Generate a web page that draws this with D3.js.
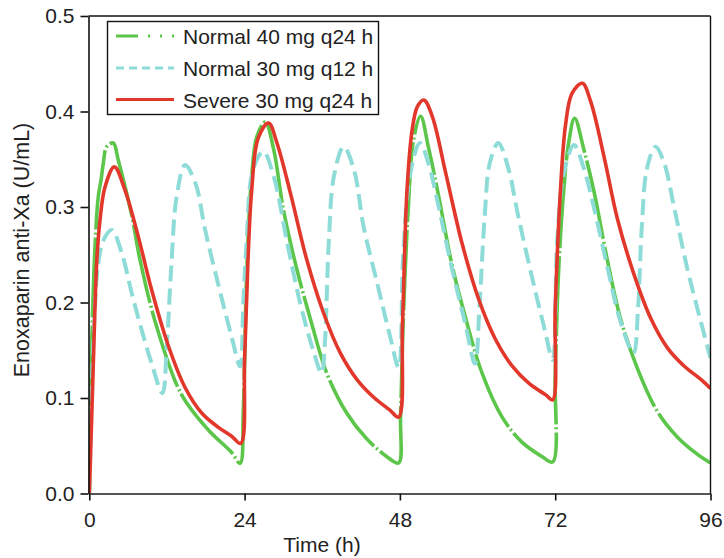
<!DOCTYPE html>
<html><head><meta charset="utf-8">
<script src="https://cdn.jsdelivr.net/npm/d3@7"></script>
<style>
body{margin:0;background:#fff}
text{font-family:"Liberation Sans",Arial,Helvetica,sans-serif;fill:#222}
</style>
</head><body><svg id="c" width="724" height="558"></svg>
<script>
// ---- data ----
const xTicks = [0, 24, 48, 72, 96];
const yTicks = [0, 0.1, 0.2, 0.3, 0.4, 0.5];
const seriesNames = ["Normal 40 mg q24 h", "Normal 30 mg q12 h", "Severe 30 mg q24 h"];
const xTitle = "Time (h)";
const yTitle = "Enoxaparin anti-Xa (U/mL)";

const greenT = [0,0.37,0.88,1.39,1.81,2.17,2.68,3.7,4.48,6.5,7.83,10.4,14.3,18.4,22,23.3,
  23.8,24.3,25.1,25.9,27.2,28.5,30,32.1,34.2,36.7,39.8,42.9,46,47.8,
  48.1,48.5,49.3,50.1,51.2,52.4,54,56,58.1,60.7,63.8,66.9,70,71.6,
  72.0,72.5,73.3,74.1,75,76.4,78,80.1,82.1,84.7,87.8,90.9,94,96];
const greenV = [0,0.154,0.258,0.311,0.328,0.346,0.363,0.367,0.349,0.293,0.245,0.175,0.103,0.0665,0.043,0.0316,
  0.087,0.227,0.332,0.374,0.389,0.36,0.297,0.234,0.182,0.126,0.084,0.057,0.0385,0.032,
  0.08,0.178,0.30,0.37,0.395,0.363,0.311,0.241,0.185,0.126,0.080,0.0535,0.0385,0.033,
  0.124,0.229,0.316,0.368,0.393,0.361,0.316,0.243,0.183,0.131,0.0857,0.059,0.041,0.032];

const cyanT = [0,0.7,1.39,2.17,3.46,5.0,6.55,8.1,9.64,11.3,11.97,12.7,13.5,14.8,16.4,17.9,20,22,23.3,
  23.8,24.3,25.3,26.9,28.5,30.6,32.6,34.6,35.9,36.4,37,37.8,39.3,40.9,42.4,44.5,46.5,47.8,
  48.5,49.6,51.1,52.4,54,56,58.1,59.6,60.3,61.1,61.9,63.2,64.7,66.3,68.4,70.4,71.6,
  72.3,73.3,74.9,76.4,78,80.1,82.1,84.1,84.8,85.4,86.2,87.5,88.8,90.4,92.4,94.5,96];
const cyanV = [0,0.171,0.241,0.265,0.276,0.252,0.21,0.171,0.136,0.105,0.154,0.241,0.311,0.344,0.325,0.276,0.217,0.164,0.133,
  0.20,0.262,0.339,0.358,0.332,0.262,0.199,0.150,0.126,0.157,0.262,0.332,0.363,0.339,0.279,0.22,0.164,0.132,
  0.248,0.335,0.367,0.346,0.30,0.237,0.178,0.136,0.196,0.29,0.346,0.367,0.342,0.29,0.227,0.171,0.14,
  0.264,0.334,0.365,0.341,0.299,0.236,0.18,0.147,0.194,0.281,0.341,0.363,0.347,0.299,0.236,0.18,0.142];

const redT = [0,0.15,0.62,1.14,1.65,2.43,3.87,5.5,7.57,9.64,12.2,14.8,17.4,20,22,23.4,
  24.0,24.5,25.1,26.1,27.7,29,31.1,33.6,36.2,38.8,41.4,43.9,46.5,47.8,
  48.4,49.1,49.9,50.7,51.7,53,55.1,57.6,60.2,62.8,65.4,68,70.6,71.6,
  72.0,72.8,73.6,74.6,76.2,77.5,79.6,81.6,84.2,86.8,89.4,92,94.6,96];
const redV = [0,0.03,0.136,0.241,0.286,0.321,0.342,0.318,0.269,0.213,0.155,0.111,0.084,0.069,0.06,0.0525,
  0.14,0.24,0.318,0.372,0.388,0.367,0.314,0.245,0.189,0.147,0.119,0.101,0.087,0.080,
  0.178,0.318,0.381,0.405,0.412,0.395,0.335,0.262,0.203,0.161,0.133,0.115,0.103,0.098,
  0.194,0.316,0.386,0.419,0.4295,0.410,0.351,0.288,0.229,0.183,0.152,0.133,0.119,0.110];

// ---- styles ----
const colors = ["#5cc64a", "#8edcd7", "#e2372b"];

const svg = d3.select("#c");
const x = d3.scaleLinear().domain([0, 96]).range([89.3, 710.5]);
const y = d3.scaleLinear().domain([0, 0.5]).range([493.5, 16]);

svg.append("defs").append("clipPath").attr("id", "clip")
  .append("rect").attr("x", 88.5).attr("y", 10).attr("width", 622).attr("height", 484);

const line = d3.line().x(d => x(d[0])).y(d => y(d[1])).curve(d3.curveCatmullRom.alpha(0.5));
const plot = svg.append("g").attr("clip-path", "url(#clip)");

const series = [
  {t: greenT, v: greenV, color: colors[0], w: 3.6, dash: "80,3,2,3"},
  {t: cyanT, v: cyanV, color: colors[1], w: 4, dash: "16,7"},
  {t: redT, v: redV, color: colors[2], w: 3.6, dash: null}
];
series.forEach(s => {
  plot.append("path").datum(d3.zip(s.t, s.v))
    .attr("d", line).attr("fill", "none")
    .attr("stroke", s.color).attr("stroke-width", s.w)
    .attr("stroke-dasharray", s.dash)
    .attr("stroke-linejoin", "round");
});

// frame top/right
svg.append("line").attr("x1", 88.5).attr("x2", 710.5).attr("y1", 16).attr("y2", 16).attr("stroke", "#111").attr("stroke-width", 1.4);
svg.append("line").attr("x1", 710.5).attr("x2", 710.5).attr("y1", 16).attr("y2", 493.5).attr("stroke", "#111").attr("stroke-width", 1.4);

// axes
const yAxis = svg.append("g").attr("transform", "translate(88.5,0)")
  .call(d3.axisLeft(y).tickValues(yTicks).tickFormat(d3.format(".1f")).tickSize(8).tickSizeOuter(0).tickPadding(6));
const xAxis = svg.append("g").attr("transform", "translate(0,493.5)")
  .call(d3.axisBottom(x).tickValues(xTicks).tickFormat(d3.format("d")).tickSize(7).tickSizeOuter(0).tickPadding(11.5));
[yAxis, xAxis].forEach(g => {
  g.selectAll("text").attr("font-size", 21).attr("font-family", "'Liberation Sans',Arial,sans-serif").attr("fill", "#222");
  g.selectAll("line").attr("stroke", "#111").attr("stroke-width", 1.6);
});
yAxis.select(".domain").attr("stroke", "#111").attr("stroke-width", 1.6);
xAxis.select(".domain").attr("stroke", "#555").attr("stroke-width", 2);

// titles
svg.append("text").attr("x", 322).attr("y", 552).attr("text-anchor", "middle").attr("font-size", 21).text(xTitle);
svg.append("text").attr("transform", "translate(29,250) rotate(-90)").attr("text-anchor", "middle").attr("font-size", 21.5).text(yTitle);

// legend
const lg = svg.append("g");
lg.append("rect").attr("x", 107.5).attr("y", 21.5).attr("width", 271).attr("height", 93)
  .attr("fill", "#fff").attr("stroke", "#111").attr("stroke-width", 1.4);
const legDash = ["22,10,2,10,2,10", "8,5", null];
const legY = [36, 68, 99.5];
seriesNames.forEach((n, i) => {
  lg.append("line").attr("x1", 116).attr("x2", 174).attr("y1", legY[i]).attr("y2", legY[i])
    .attr("stroke", colors[i]).attr("stroke-width", 3.2).attr("stroke-dasharray", legDash[i]);
  lg.append("text").attr("x", 183).attr("y", legY[i] + 8).attr("font-size", 21).text(n);
});
</script>
</body></html>
